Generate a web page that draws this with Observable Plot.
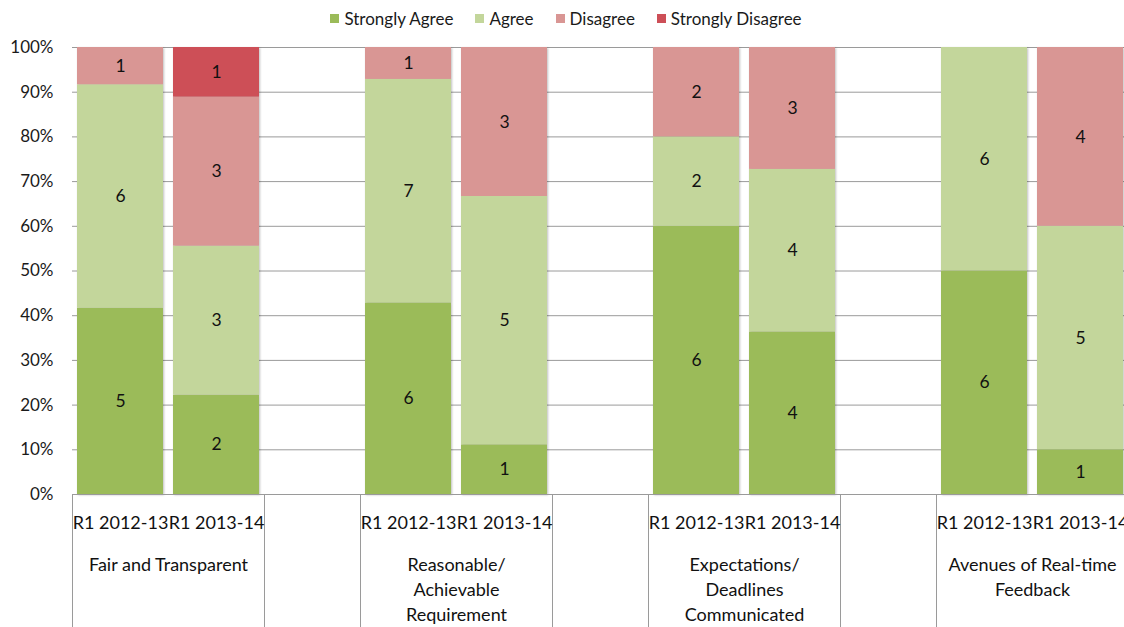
<!DOCTYPE html>
<html>
<head>
<meta charset="utf-8">
<script src="https://cdn.jsdelivr.net/npm/d3@7"></script>
<script src="https://cdn.jsdelivr.net/npm/@observablehq/plot@0.6"></script>
<style>
  body { margin: 0; background: #fff; font-family: Lato, "Open Sans", sans-serif; }
  #chart { width: 1124px; height: 627px; overflow: hidden; position: relative; }
  .legend { height: 28px; display: flex; justify-content: center; align-items: flex-end; font-size: 17px; color: #1a1a1a; padding-left: 8px; box-sizing: border-box; }
  .legend .item { display: flex; align-items: center; margin: 0 11px; height: 20px; }
  .legend .swatch { width: 9px; height: 9px; margin-right: 5px; }
</style>
</head>
<body>
<div id="chart"></div>
<script>
// Survey questions (multi-line labels) and survey rounds
const groups = [
  "Fair and Transparent",
  "Reasonable/\nAchievable\nRequirement",
  "Expectations/\nDeadlines\nCommunicated",
  "Avenues of Real-time\nFeedback"
];
const rounds = ["R1 2012-13", "R1 2013-14"];
const responses = ["Strongly Agree", "Agree", "Disagree", "Strongly Disagree"];
const colors = ["#9BBB59", "#C3D69B", "#D99694", "#CD4F57"];

// Response counts, one entry per bar (question × round)
const stronglyAgree    = [5, 2, 6, 1, 6, 4, 6, 1];
const agree            = [6, 3, 7, 5, 2, 4, 6, 5];
const disagree         = [1, 3, 1, 3, 2, 3, 0, 4];
const stronglyDisagree = [0, 1, 0, 0, 0, 0, 0, 0];
const series = [stronglyAgree, agree, disagree, stronglyDisagree];

// Each question gets two bar slots plus one empty spacer slot
const slots = [];
groups.forEach((g, i) => {
  rounds.forEach(r => slots.push(`${i}|${r}`));
  slots.push(`${i}|gap`);
});

const rows = [];
const barsMeta = [];
groups.forEach((g, i) => {
  rounds.forEach((r, k) => {
    const j = i * rounds.length + k;
    const slot = `${i}|${r}`;
    barsMeta.push({slot, round: r});
    responses.forEach((resp, s) => {
      const count = series[s][j];
      if (count > 0) rows.push({slot, response: resp, count});
    });
  });
});
const groupMeta = groups.map((g, i) => ({slot: `${i}|${rounds[0]}`, label: g}));
const separators = groups.flatMap((g, i) => [`${i}|${rounds[0]}`, `${i}|gap`]);

const width = 1124, height = 599;
const left = 72, step = 96;

// Legend above the chart
const legend = document.createElement("div");
legend.className = "legend";
responses.forEach((r, i) => {
  const item = document.createElement("div");
  item.className = "item";
  const sw = document.createElement("span");
  sw.className = "swatch";
  sw.style.background = colors[i];
  const tx = document.createElement("span");
  tx.textContent = r;
  item.append(sw, tx);
  legend.append(item);
});

const stackOpts = {x: "slot", y: "count", z: "response", offset: "normalize", order: responses};

const plot = Plot.plot({
  width, height,
  marginLeft: left, marginRight: 0, marginTop: 19, marginBottom: 133,
  style: {fontFamily: "Lato, 'Open Sans', sans-serif", fontSize: "17px", color: "#1a1a1a", background: "#fff"},
  x: {domain: slots, range: [left, left + step * slots.length], paddingInner: 0.1, paddingOuter: 0.05, axis: null},
  y: {domain: [0, 1], ticks: 10, tickFormat: d3.format(".0%"), label: null},
  color: {domain: responses, range: colors},
  marks: [
    Plot.gridY({ticks: 10, stroke: "#9a9a9a", strokeOpacity: 1}),
    Plot.axisY({ticks: 10, tickSize: 0, tickPadding: 19, tickFormat: d3.format(".0%"), label: null}),
    Plot.barY(rows, Plot.stackY({...stackOpts, fill: "response"})),
    Plot.text(rows, Plot.stackY({...stackOpts, text: "count", fill: "#111", fontSize: 17.5})),
    Plot.ruleY([0], {stroke: "#9a9a9a"}),
    // vertical separators below the baseline
    Plot.ruleX(separators, {x: d => d, y1: 0, y2: -0.35, dx: -step / 2, stroke: "#9a9a9a"}),
    // round labels under each bar
    Plot.text(barsMeta, {x: "slot", text: "round", frameAnchor: "bottom", lineAnchor: "top", dy: 22, fontSize: 18, fill: "#111"}),
    // question labels centered under each pair
    Plot.text(groupMeta, {x: "slot", text: "label", frameAnchor: "bottom", lineAnchor: "top", dy: 59, dx: step / 2, fontSize: 18, lineHeight: 1.38, fill: "#111"})
  ]
});

d3.select(plot).selectAll('g[aria-label="bar"]').style("filter", "drop-shadow(1px 1px 1px rgba(0,0,0,0.25))");

const chart = document.getElementById("chart");
chart.append(legend, plot);
</script>
</body>
</html>
